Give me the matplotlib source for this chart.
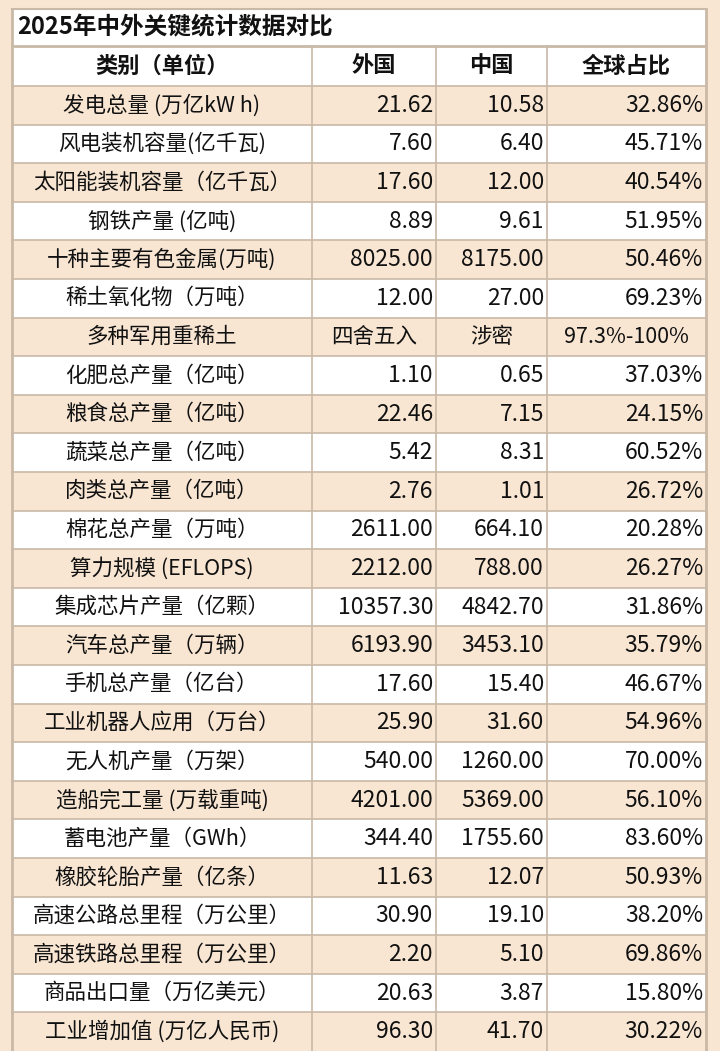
import matplotlib
matplotlib.use("Agg")
import matplotlib.pyplot as plt
from matplotlib.patches import Rectangle

plt.rcParams['font.family'] = ['Noto Sans CJK SC', 'DejaVu Sans']

title = "2025年中外关键统计数据对比"
headers = ["类别（单位）", "外国", "中国", "全球占比"]
categories = ["发电总量 (万亿kW h)", "风电装机容量(亿千瓦)", "太阳能装机容量（亿千瓦）", "钢铁产量 (亿吨)",
              "十种主要有色金属(万吨)", "稀土氧化物（万吨）", "多种军用重稀土", "化肥总产量（亿吨）",
              "粮食总产量（亿吨）", "蔬菜总产量（亿吨）", "肉类总产量（亿吨）", "棉花总产量（万吨）",
              "算力规模 (EFLOPS)", "集成芯片产量（亿颗）", "汽车总产量（万辆）", "手机总产量（亿台）",
              "工业机器人应用（万台）", "无人机产量（万架）", "造船完工量 (万载重吨)", "蓄电池产量（GWh）",
              "橡胶轮胎产量（亿条）", "高速公路总里程（万公里）", "高速铁路总里程（万公里）",
              "商品出口量（万亿美元）", "工业增加值 (万亿人民币)"]
foreign = ["21.62", "7.60", "17.60", "8.89", "8025.00", "12.00", "四舍五入", "1.10", "22.46", "5.42",
           "2.76", "2611.00", "2212.00", "10357.30", "6193.90", "17.60", "25.90", "540.00", "4201.00",
           "344.40", "11.63", "30.90", "2.20", "20.63", "96.30"]
china = ["10.58", "6.40", "12.00", "9.61", "8175.00", "27.00", "涉密", "0.65", "7.15", "8.31",
         "1.01", "664.10", "788.00", "4842.70", "3453.10", "15.40", "31.60", "1260.00", "5369.00",
         "1755.60", "12.07", "19.10", "5.10", "3.87", "41.70"]
share = ["32.86%", "45.71%", "40.54%", "51.95%", "50.46%", "69.23%", "97.3%-100%", "37.03%", "24.15%",
         "60.52%", "26.72%", "20.28%", "26.27%", "31.86%", "35.79%", "46.67%", "54.96%", "70.00%",
         "56.10%", "83.60%", "50.93%", "38.20%", "69.86%", "15.80%", "30.22%"]

W, H = 720, 1051
fig = plt.figure(figsize=(7.2, 10.51), dpi=100)
ax = fig.add_axes([0, 0, 1, 1])
ax.set_xlim(0, W); ax.set_ylim(H, 0); ax.axis('off')
beige = "#f8e6d3"
line = "#c9b9a6"
fig.patch.set_facecolor(beige)

L, R = 12, 706
cols = [L, 312, 436, 547, R]
ty0, ty1 = 9, 46
hy1 = 86
rh = (H - hy1) / len(categories)

ax.add_patch(Rectangle((L, ty0), R - L, H - ty0, facecolor="white", edgecolor="none"))
ax.text(L + 5, (ty0 + ty1) / 2, title, fontsize=17, fontweight='bold', va='center', ha='left', color="#111")
for i, h in enumerate(headers):
    ax.text((cols[i] + cols[i + 1]) / 2, (ty1 + hy1) / 2, h, fontsize=16, fontweight='bold',
            va='center', ha='center', color="#111")

for r in range(len(categories)):
    y0 = hy1 + r * rh
    if r % 2 == 0:
        ax.add_patch(Rectangle((L, y0), R - L, rh, facecolor=beige, edgecolor="none"))
    yc = y0 + rh / 2
    ax.text((cols[0] + cols[1]) / 2, yc, categories[r], fontsize=15.5, ha='center', va='center', color="#111")
    vals = [foreign[r], china[r], share[r]]
    for j, v in enumerate(vals):
        if r == 6:
            ax.text((cols[j + 1] + cols[j + 2]) / 2, yc, v, fontsize=15.5, ha='center', va='center', color="#111")
        else:
            ax.text(cols[j + 2] - 3, yc, v, fontsize=16.5, ha='right', va='center', color="#111")
    ax.plot([L, R], [y0, y0], color=line, lw=1.2)

ax.plot([L, R], [ty1, ty1], color=line, lw=2)
ax.plot([L, R], [ty0, ty0], color=line, lw=1.5)
for x in cols:
    y_start = ty0 if x in (L, R) else ty1
    ax.plot([x, x], [y_start, H], color=line, lw=1.2 if x not in (L, R) else 2)

fig.savefig("out.png", dpi=100, facecolor=fig.get_facecolor())
